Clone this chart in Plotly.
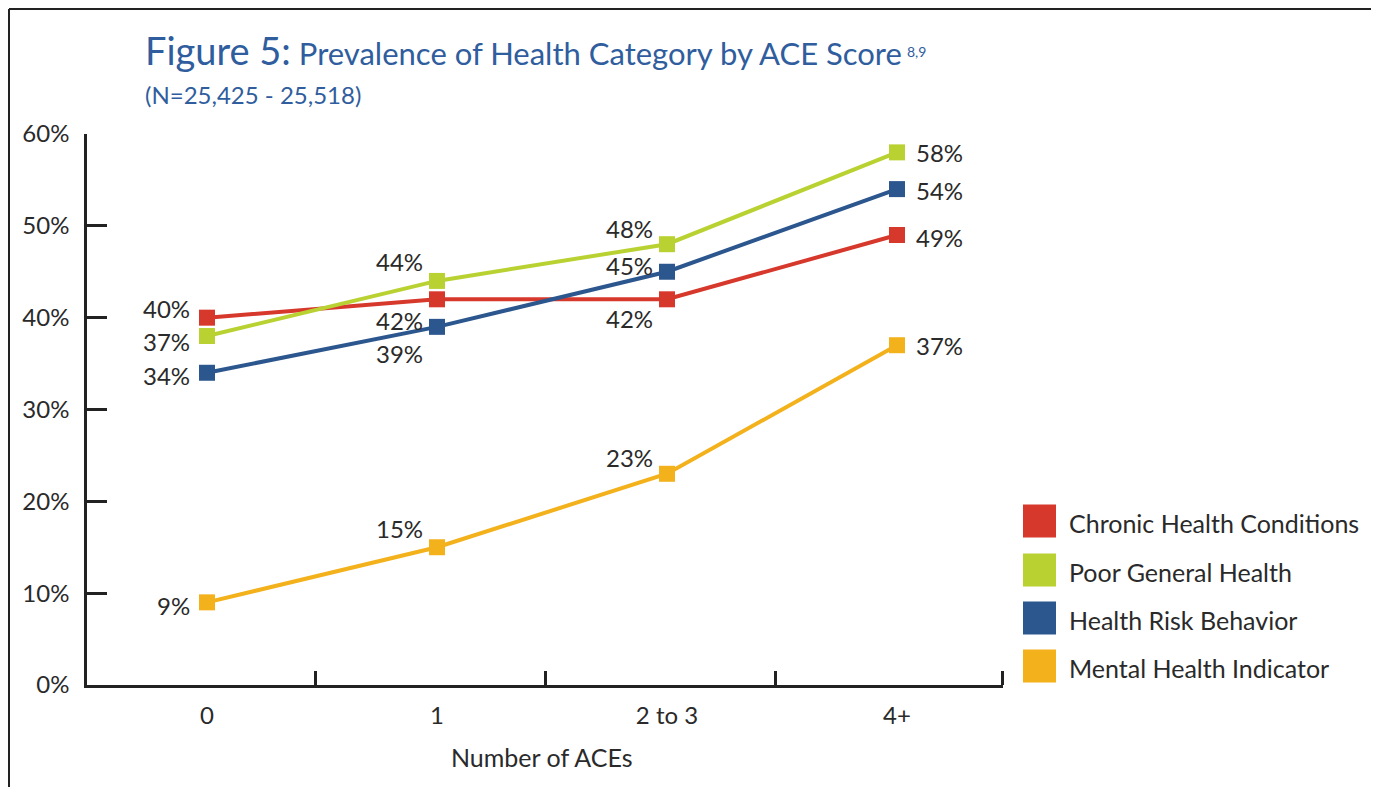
import plotly.graph_objects as go

# ---------------- data ----------------
categories = ["0", "1", "2 to 3", "4+"]
series_names = ["Chronic Health Conditions", "Poor General Health",
                "Health Risk Behavior", "Mental Health Indicator"]
chronic = [40, 42, 42, 49]
poor_general = [38, 44, 48, 58]
risk_behavior = [34, 39, 45, 54]
mental = [9, 15, 23, 37]
chronic_labels = ["40%", "42%", "42%", "49%"]
poor_general_labels = ["37%", "44%", "48%", "58%"]
risk_behavior_labels = ["34%", "39%", "45%", "54%"]
mental_labels = ["9%", "15%", "23%", "37%"]
y_ticks = [0, 10, 20, 30, 40, 50, 60]
y_tick_labels = ["0%", "10%", "20%", "30%", "40%", "50%", "60%"]

values = [chronic, poor_general, risk_behavior, mental]
labels = [chronic_labels, poor_general_labels, risk_behavior_labels, mental_labels]
colors = ["#d7382c", "#b9d232", "#2c568e", "#f3b11c"]

FONT = "Lato"
TXT = "#2a2a2a"
BLUE = "#2f5d9d"

# page is offset by the 8px body margin
OFF = 8
W, H = 1379 - OFF, 787 - OFF
L, R, T, B = 87, 1003, 134, 685   # page pixel coordinates of plot area
xpos = list(range(len(categories)))

# label offsets (pixels) per series / per point : (xanchor, xshift, yshift)
offsets = [
    [("right", -15, 9), ("right", -12, -21), ("right", -12, -19), ("left", 17, -2)],
    [("right", -15, -5), ("right", -12, 19), ("right", -12, 16), ("left", 17, 0)],
    [("right", -15, -3), ("right", -12, -27), ("right", -12, 6), ("left", 17, -1)],
    [("right", -15, -3), ("right", -12, 19), ("right", -12, 16), ("left", 17, 0)],
]

fig = go.Figure()
for name, vals, col in zip(series_names, values, colors):
    fig.add_trace(go.Scatter(
        x=xpos, y=vals, name=name, mode="lines+markers",
        line=dict(color=col, width=4),
        marker=dict(symbol="square", size=16, color=col),
        showlegend=False, hoverinfo="skip"))

annotations = []
for vals, labs, offs in zip(values, labels, offsets):
    for xi, (v, lab, (anc, xs, ys)) in enumerate(zip(vals, labs, offs)):
        annotations.append(dict(
            x=xi, y=v, xref="x", yref="y", text=lab, showarrow=False,
            xanchor=anc, yanchor="middle", xshift=xs, yshift=ys,
            font=dict(family=FONT, size=24, color=TXT)))

def px(xp):
    return (xp - L) / (R - L)

def py(yp):
    return (B - yp) / (B - T)

# legend (manual)
shapes = []
leg_y = [521, 570, 618, 666]
for name, col, yc in zip(series_names, colors, leg_y):
    shapes.append(dict(type="rect", xref="paper", yref="paper",
                       x0=px(1023), x1=px(1056), y0=py(yc + 16.5), y1=py(yc - 16.5),
                       fillcolor=col, line=dict(width=0)))
    annotations.append(dict(x=px(1067), y=py(yc + 2), xref="paper", yref="paper",
                            text=name, showarrow=False, xanchor="left", yanchor="middle",
                            font=dict(family=FONT, size=25, color=TXT)))

# title
annotations.append(dict(
    x=px(143), y=py(50), xref="paper", yref="paper", showarrow=False,
    xanchor="left", yanchor="middle",
    text=("<span style='font-size:38px'>Figure 5:</span> "
          "<span style='font-size:31px'>Prevalence of Health Category by ACE Score</span>"
          "<span style='font-size:20px'> <sup>8,9</sup></span>"),
    font=dict(family=FONT, size=31, color=BLUE)))
annotations.append(dict(
    x=px(143), y=py(95), xref="paper", yref="paper", showarrow=False,
    xanchor="left", yanchor="middle", text="(N=25,425 - 25,518)",
    font=dict(family=FONT, size=24, color=BLUE)))
# x-axis title
annotations.append(dict(
    x=px(542), y=py(757), xref="paper", yref="paper", showarrow=False,
    xanchor="center", yanchor="middle", text="Number of ACEs",
    font=dict(family=FONT, size=25, color=TXT)))

# border lines
shapes.append(dict(type="line", xref="paper", yref="paper",
                   x0=px(9), x1=px(1379), y0=py(9), y1=py(9),
                   line=dict(color="#222", width=2)))
shapes.append(dict(type="line", xref="paper", yref="paper",
                   x0=px(9), x1=px(9), y0=py(9), y1=py(790),
                   line=dict(color="#222", width=2)))
shapes.append(dict(type="line", xref="paper", yref="paper",
                   x0=px(1377.5), x1=px(1377.5), y0=py(9), y1=py(790),
                   line=dict(color="#e6e6e6", width=1.5)))

x0r = -120 / 230
x1r = (R - 207) / 230
fig.update_layout(
    width=W, height=H,
    margin=dict(l=L - OFF, r=W - (R - OFF), t=T - OFF, b=H - (B - OFF)),
    paper_bgcolor="white", plot_bgcolor="white",
    showlegend=False,
    font=dict(family=FONT, color=TXT),
    xaxis=dict(range=[x0r, x1r], tickmode="array", tickvals=xpos, ticktext=categories,
               ticks="", showgrid=False, zeroline=False,
               showline=True, linecolor="#222", linewidth=2.5,
               tickfont=dict(family=FONT, size=24, color=TXT),
               ticklabelstandoff=7,
               minor=dict(tickmode="array",
                          tickvals=[(315 - 207) / 230, (545 - 207) / 230,
                                    (775 - 207) / 230, (1002 - 207) / 230],
                          ticks="inside", ticklen=14, tickwidth=2.5, tickcolor="#222",
                          showgrid=False)),
    yaxis=dict(range=[0, 60], tickmode="array", tickvals=y_ticks, ticktext=y_tick_labels,
               ticks="inside", ticklen=20, tickwidth=2.5, tickcolor="#222",
               showgrid=False, zeroline=False,
               showline=True, linecolor="#222", linewidth=2.5,
               tickfont=dict(family=FONT, size=24, color=TXT),
               ticklabelstandoff=10),
    annotations=annotations, shapes=shapes,
)

fig.write_html("out.html")
